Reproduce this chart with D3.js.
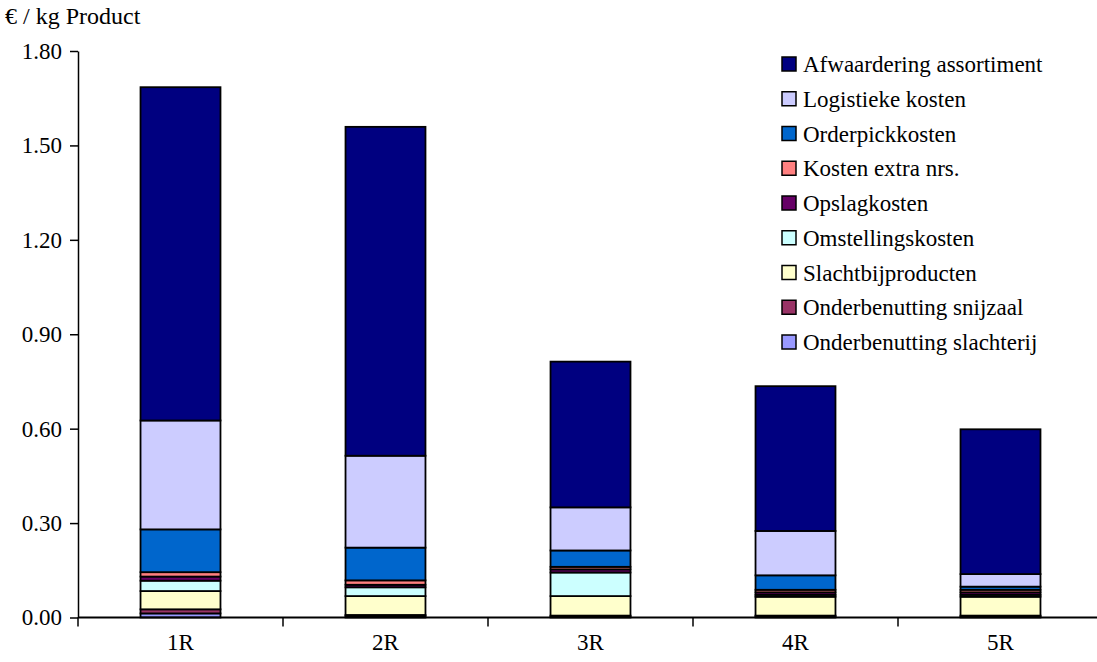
<!DOCTYPE html>
<html>
<head>
<meta charset="utf-8">
<script src="https://cdn.jsdelivr.net/npm/d3@7"></script>
<style>
  html, body { margin: 0; padding: 0; background: #fff; }
  svg { display: block; }
  text { font-family: "Liberation Serif", "Times New Roman", serif; fill: #000; }
</style>
</head>
<body>
<svg id="chart" width="1097" height="662"></svg>
<script>
// Cost build-up per scenario (€ per kg product), stacked bottom to top
const categories = ["1R", "2R", "3R", "4R", "5R"];
const onderbenuttingSlachterij = [0.013, 0.004, 0.003, 0.003, 0.003];
const onderbenuttingSnijzaal   = [0.013, 0.004, 0.003, 0.003, 0.003];
const slachtbijproducten       = [0.058, 0.060, 0.062, 0.060, 0.060];
const omstellingskosten        = [0.033, 0.028, 0.075, 0.006, 0.006];
const opslagkosten             = [0.013, 0.008, 0.010, 0.008, 0.008];
const kostenExtraNrs           = [0.014, 0.014, 0.008, 0.008, 0.008];
const orderpickkosten          = [0.136, 0.104, 0.052, 0.046, 0.010];
const logistiekeKosten         = [0.346, 0.292, 0.137, 0.141, 0.040];
const afwaarderingAssortiment  = [1.059, 1.045, 0.463, 0.460, 0.460];

const seriesNames = [
  "Onderbenutting slachterij", "Onderbenutting snijzaal", "Slachtbijproducten",
  "Omstellingskosten", "Opslagkosten", "Kosten extra nrs.", "Orderpickkosten",
  "Logistieke kosten", "Afwaardering assortiment"
];
const seriesValues = [
  onderbenuttingSlachterij, onderbenuttingSnijzaal, slachtbijproducten,
  omstellingskosten, opslagkosten, kostenExtraNrs, orderpickkosten,
  logistiekeKosten, afwaarderingAssortiment
];
const seriesColors = [
  "#9999FF", "#993366", "#FFFFCC", "#CCFFFF", "#660066",
  "#FF8080", "#0066CC", "#CCCCFF", "#000080"
];
const yTicks = [0, 0.30, 0.60, 0.90, 1.20, 1.50, 1.80];
const yTitle = "€ / kg Product";

// table for d3.stack
const rows = categories.map((c, i) => {
  const r = { cat: c };
  seriesNames.forEach((s, k) => { r[s] = seriesValues[k][i]; });
  return r;
});
const stacked = d3.stack().keys(seriesNames)(rows);

const svg = d3.select("#chart");
const plot = { left: 78, right: 1103, top: 51, bottom: 617.5 };
const fontSize = 23;

const x = d3.scaleBand().domain(categories).range([plot.left, plot.right]).paddingInner(0).paddingOuter(0);
const y = d3.scaleLinear().domain([0, 1.8]).range([plot.bottom, plot.top]);
const barW = x.bandwidth() * 0.39;
const color = d3.scaleOrdinal().domain(seriesNames).range(seriesColors);

// bars
svg.append("g").selectAll("g").data(stacked).join("g")
  .attr("fill", d => color(d.key))
  .selectAll("rect").data(d => d).join("rect")
    .attr("x", d => x(d.data.cat) + (x.bandwidth() - barW) / 2)
    .attr("y", d => y(d[1]))
    .attr("width", barW)
    .attr("height", d => y(d[0]) - y(d[1]))
    .attr("stroke", "#000")
    .attr("stroke-width", 1.8);

// y axis
const yAxis = d3.axisLeft(y).tickValues(yTicks).tickFormat(d3.format(".2f")).tickSizeInner(8).tickSizeOuter(0).tickPadding(8);
const gy = svg.append("g").attr("transform", `translate(${plot.left},0)`).call(yAxis);
gy.select(".domain").attr("stroke", "#000").attr("stroke-width", 1.5);
gy.selectAll(".tick line").attr("stroke", "#000").attr("stroke-width", 1.5);
gy.selectAll(".tick text").attr("font-size", fontSize).attr("font-family", "Liberation Serif").attr("fill", "#000");

// x axis with ticks between categories
const gx = svg.append("g").attr("transform", `translate(0,${plot.bottom})`);
gx.append("line").attr("x1", plot.left).attr("x2", plot.right).attr("stroke", "#000").attr("stroke-width", 1.8);
const bounds = categories.map(c => x(c));
gx.selectAll("line.tk").data(bounds).join("line").attr("class", "tk")
  .attr("x1", d => d).attr("x2", d => d).attr("y1", 0).attr("y2", 9)
  .attr("stroke", "#000").attr("stroke-width", 1.5);
gx.selectAll("text").data(categories).join("text")
  .attr("x", d => x(d) + x.bandwidth() / 2)
  .attr("y", 32)
  .attr("text-anchor", "middle")
  .attr("font-size", fontSize)
  .text(d => d);

// axis title
svg.append("text").attr("x", 5).attr("y", 24).attr("font-size", fontSize + 1).text(yTitle);

// legend, top entry = top of stack
const legendOrder = seriesNames.slice().reverse();
const lg = svg.append("g").attr("transform", "translate(782,64)");
const item = lg.selectAll("g").data(legendOrder).join("g")
  .attr("transform", (d, i) => `translate(0,${i * 34.75})`);
item.append("rect").attr("x", 0).attr("y", -7).attr("width", 14).attr("height", 14)
  .attr("fill", d => color(d)).attr("stroke", "#000").attr("stroke-width", 1.5);
item.append("text").attr("x", 21).attr("y", 8).attr("font-size", fontSize).text(d => d);
</script>
</body>
</html>
